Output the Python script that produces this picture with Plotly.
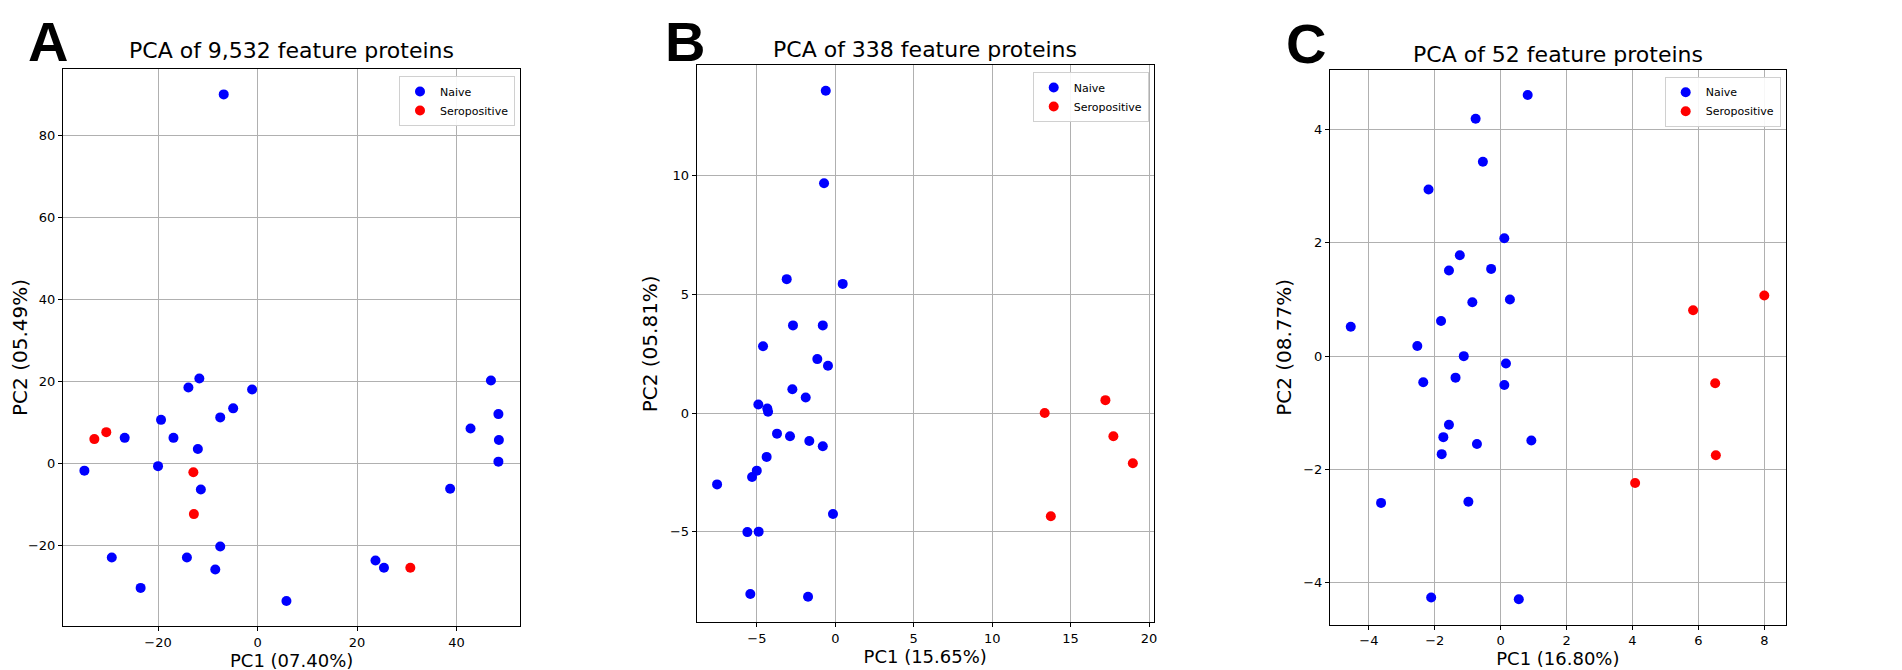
#!/usr/bin/env python3
"""
Three PCA score plots (naive vs seropositive) side by side, panels A-C.
"""

import plotly.graph_objects as go

FONT = "DejaVu Sans"
NAIVE_COLOR = "#0000ff"
SERO_COLOR = "#ff0000"

# --- Panel A: 9,532 feature proteins ---
a_naive_x = [-6.8, -34.8, -20.0, -19.4, -26.7, -16.9, -13.9, -11.7, -12.0, -7.5,
             -4.9, -1.1, -11.4, -7.5, -14.2, -8.5, -29.3, -23.5, 5.8, 23.7,
             25.4, 38.7, 42.8, 46.9, 48.4, 48.5, 48.4]
a_naive_y = [90.1, -1.7, -0.6, 10.7, 6.3, 6.3, 18.6, 20.8, 3.6, 11.3,
             13.5, 18.1, -6.3, -20.2, -22.9, -25.8, -22.9, -30.3, -33.5, -23.6,
             -25.4, -6.1, 8.6, 20.3, 12.1, 5.8, 0.5]
a_sero_x = [-32.8, -30.4, -12.9, -12.8, 30.7]
a_sero_y = [6.0, 7.7, -2.1, -12.3, -25.4]

# --- Panel B: 338 feature proteins ---
b_naive_x = [-0.61, -0.72, -3.10, 0.47, -2.70, -0.80, -4.61, -1.15, -0.47, -2.74,
             -1.89, -4.91, -4.34, -4.29, -3.72, -2.89, -1.66, -0.80, -4.38, -5.01,
             -5.31, -7.54, -0.15, -5.61, -4.89, -5.42, -1.74]
b_naive_y = [13.59, 9.69, 5.65, 5.45, 3.70, 3.70, 2.82, 2.28, 2.00, 1.01,
             0.66, 0.37, 0.20, 0.06, -0.86, -0.97, -1.17, -1.39, -1.84, -2.42,
             -2.69, -3.00, -4.25, -5.01, -4.99, -7.62, -7.73]
b_sero_x = [13.35, 17.22, 17.73, 18.97, 13.74]
b_sero_y = [0.01, 0.55, -0.97, -2.11, -4.34]

# --- Panel C: 52 feature proteins ---
c_naive_x = [0.82, -0.76, -0.54, -2.19, 0.11, -1.24, -1.57, -0.29, -0.86, 0.28,
             -1.81, -4.55, -2.53, -1.12, 0.16, -2.35, -1.37, 0.11, -1.57, -1.74,
             -0.72, 0.93, -1.79, -3.63, -0.98, -2.11, 0.55]
c_naive_y = [4.61, 4.19, 3.43, 2.94, 2.08, 1.78, 1.51, 1.54, 0.95, 1.00,
             0.62, 0.52, 0.18, 0.00, -0.13, -0.46, -0.38, -0.51, -1.21, -1.43,
             -1.55, -1.49, -1.73, -2.59, -2.57, -4.26, -4.29]
c_sero_x = [5.84, 8.00, 6.51, 6.53, 4.08]
c_sero_y = [0.81, 1.07, -0.48, -1.75, -2.24]

PANELS = [
    {
        "letter": "A", "title": "PCA of 9,532 feature proteins",
        "xlabel": "PC1 (07.40%)", "ylabel": "PC2 (05.49%)",
        "naive": (a_naive_x, a_naive_y), "sero": (a_sero_x, a_sero_y),
        "xrange": [-39.1, 52.8], "yrange": [-39.6, 96.3], "dx": 20, "dy": 20,
        "xdom": [55 / 1902, 512.3 / 1902], "ydom": [1 - 618 / 670, 1 - 61 / 670],
        "letter_pos": (40, 0), "title_y": 43, "legend_pos": (507, 68), "ystand": 6,
    },
    {
        "letter": "B", "title": "PCA of 338 feature proteins",
        "xlabel": "PC1 (15.65%)", "ylabel": "PC2 (05.81%)",
        "naive": (b_naive_x, b_naive_y), "sero": (b_sero_x, b_sero_y),
        "xrange": [-8.84, 20.3], "yrange": [-8.81, 14.66], "dx": 5, "dy": 5,
        "xdom": [688.7 / 1902, 1145.7 / 1902], "ydom": [1 - 614.3 / 670, 1 - 57.3 / 670],
        "letter_pos": (677, 0), "title_y": 41, "legend_pos": (1140.7, 64), "ystand": 6,
    },
    {
        "letter": "C", "title": "PCA of 52 feature proteins",
        "xlabel": "PC1 (16.80%)", "ylabel": "PC2 (08.77%)",
        "naive": (c_naive_x, c_naive_y), "sero": (c_sero_x, c_sero_y),
        "xrange": [-5.18, 8.65], "yrange": [-4.74, 5.05], "dx": 2, "dy": 2,
        "xdom": [1322 / 1902, 1777.7 / 1902], "ydom": [1 - 616.7 / 670, 1 - 62 / 670],
        "letter_pos": (1298, 2), "title_y": 46, "legend_pos": (1772.7, 68.7), "ystand": 6,
    },
]


def axis_style(rng, dtick, domain, anchor, title, title_size, standoff):
    return dict(
        range=rng, dtick=dtick, domain=domain, anchor=anchor,
        showgrid=True, gridcolor="#b0b0b0", gridwidth=1,
        zeroline=False, showline=True, linecolor="#000000", linewidth=1, mirror=True,
        ticks="outside", ticklen=4, tickcolor="#000000",
        tickfont=dict(family=FONT, size=13, color="#000000"),
        title=dict(text=title, font=dict(family=FONT, size=title_size, color="#000000"),
                   standoff=standoff),
        automargin=False, fixedrange=True,
    )


def build_figure():
    fig = go.Figure()
    layout = {}
    annotations = []
    for i, p in enumerate(PANELS):
        n = "" if i == 0 else str(i + 1)
        legend_name = "legend" + n
        for name, key, color in (("Naive", "naive", NAIVE_COLOR), ("Seropositive", "sero", SERO_COLOR)):
            xs, ys = p[key]
            fig.add_trace(go.Scatter(
                x=xs, y=ys, mode="markers", name=name,
                marker=dict(color=color, size=10, line=dict(width=0)),
                xaxis="x" + n, yaxis="y" + n, legend=legend_name,
            ))
        layout["xaxis" + n] = axis_style(p["xrange"], p["dx"], p["xdom"], "y" + n, p["xlabel"], 18, 2)
        layout["yaxis" + n] = axis_style(p["yrange"], p["dy"], p["ydom"], "x" + n, p["ylabel"], 20, p["ystand"])
        lx, ly = p["legend_pos"]
        layout[legend_name] = dict(
            x=lx / 1902, y=1 - ly / 670, xanchor="right", yanchor="top",
            bgcolor="rgba(255,255,255,0.9)", bordercolor="#d0d0d0", borderwidth=1,
            font=dict(family=FONT, size=11, color="#000000"),
            tracegroupgap=0,
        )
        cx = (p["xdom"][0] + p["xdom"][1]) / 2
        annotations.append(dict(
            text=p["title"], x=cx, y=1 - p["title_y"] / 670, xref="paper", yref="paper",
            xanchor="center", yanchor="middle", showarrow=False,
            font=dict(family=FONT, size=22, color="#000000"),
        ))
        # panel letter: box top pinned near the figure's top edge
        px_, py_ = p["letter_pos"]
        annotations.append(dict(
            text="<b>" + p["letter"] + "</b>", x=px_ / 1902, y=1 - py_ / 670,
            xref="paper", yref="paper", xanchor="center", yanchor="top", showarrow=False,
            font=dict(family="Liberation Sans", size=56, color="#000000"),
        ))

    fig.update_layout(
        width=1902, height=670,
        margin=dict(l=0, r=0, t=0, b=0),
        paper_bgcolor="#ffffff", plot_bgcolor="#ffffff",
        annotations=annotations,
        **layout,
    )
    return fig


def main():
    fig = build_figure()
    fig.write_html("out.html")


if __name__ == "__main__":
    main()
